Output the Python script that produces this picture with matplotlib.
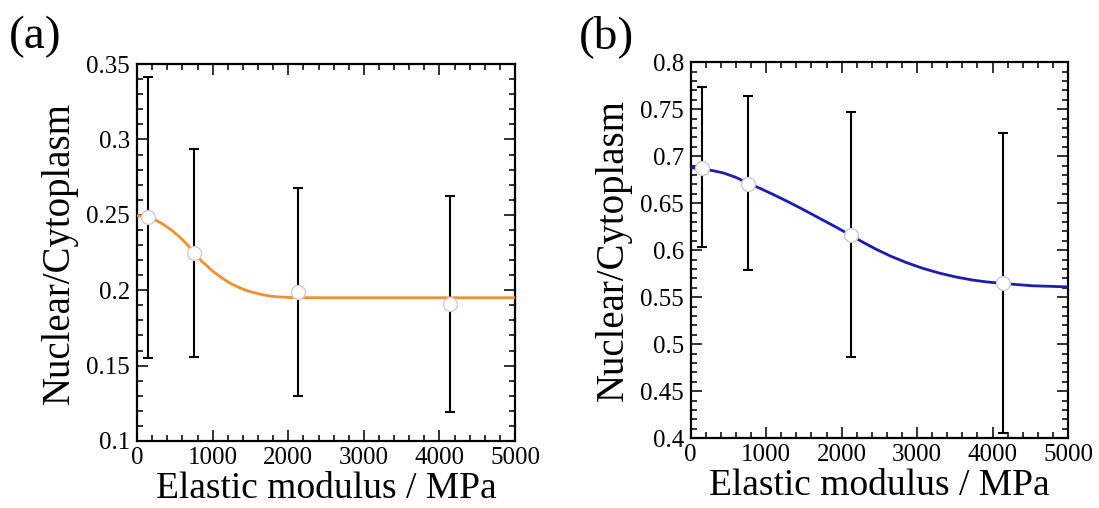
#!/usr/bin/env python
"""Nuclear/Cytoplasm ratio vs elastic modulus, panels (a) and (b)"""

import numpy as np
import matplotlib
matplotlib.use('Agg')
import matplotlib.pyplot as plt
from matplotlib.ticker import MultipleLocator

plt.rcParams['font.family'] = ['Liberation Serif', 'DejaVu Serif']

# measured points (same substrates in both panels)
modulus_a = [145, 757, 2124, 4142]
ratio_a = [0.2487, 0.2244, 0.199, 0.191]
err_hi_a = [0.3416, 0.2934, 0.2678, 0.2626]
err_lo_a = [0.155, 0.156, 0.1297, 0.1192]

modulus_b = [148, 759, 2125, 4134]
ratio_b = [0.688, 0.671, 0.6166, 0.565]
err_hi_b = [0.774, 0.764, 0.747, 0.725]
err_lo_b = [0.603, 0.579, 0.486, 0.406]

# fitted curves
fit_x_a = [0, 150, 250, 350, 450, 570, 650, 750, 850, 1010, 1120, 1230, 1340,
           1450, 1560, 1670, 1780, 1890, 2000, 2100, 2500, 3500, 5000]
fit_y_a = [0.2495, 0.2486, 0.2464, 0.2436, 0.2401, 0.2350, 0.2310, 0.2252,
           0.2195, 0.2123, 0.2082, 0.2047, 0.2020, 0.1998, 0.1982, 0.1969,
           0.1960, 0.1955, 0.1952, 0.1951, 0.195, 0.195, 0.195]

fit_x_b = [0, 150, 300, 434, 600, 751, 920, 1094, 1270, 1446, 1600, 1754, 1940,
           2119, 2290, 2458, 2650, 2854, 3070, 3294, 3510, 3733, 3920, 4116,
           4525, 5000]
fit_y_b = [0.6878, 0.6865, 0.6846, 0.6822, 0.6775, 0.6716, 0.6658, 0.6593,
           0.6524, 0.6452, 0.6386, 0.632, 0.6240, 0.6159, 0.6082, 0.601,
           0.5937, 0.587, 0.5809, 0.5757, 0.5716, 0.5683, 0.5663, 0.5648,
           0.5622, 0.5610]

panels = [
    dict(tag='(a)', x=modulus_a, y=ratio_a, hi=err_hi_a, lo=err_lo_a,
         fx=fit_x_a, fy=fit_y_a, color='#ee9130', edge='#dcc4d4',
         ylim=(0.1, 0.35), rect=[0.1247, 0.1319, 0.344, 0.742], tagx=0.008),
    dict(tag='(b)', x=modulus_b, y=ratio_b, hi=err_hi_b, lo=err_lo_b,
         fx=fit_x_b, fy=fit_y_b, color='#1c1cb0', edge='#c8c8dc',
         ylim=(0.4, 0.8), rect=[0.6285, 0.1374, 0.3433, 0.740], tagx=0.527),
]


def fmt_tick(v, pos):
    return ('%.2f' % v).rstrip('0').rstrip('.')


fig = plt.figure(figsize=(10.99, 5.08), dpi=100)

for p in panels:
    ax = fig.add_axes(p['rect'])
    y = np.array(p['y'])
    yerr = [y - np.array(p['lo']), np.array(p['hi']) - y]
    ax.errorbar(p['x'], y, yerr=yerr, fmt='none', ecolor='black',
                elinewidth=1.5, capsize=3.5, capthick=1.5, zorder=2)
    ax.plot(p['fx'], p['fy'], color=p['color'], lw=2.0, zorder=3,
            solid_joinstyle='round')
    ax.plot(p['x'], y, 'o', ms=10, mfc='white', mec=p['edge'], mew=1.0, zorder=4)

    ax.set_xlim(0, 5000)
    ax.set_ylim(*p['ylim'])
    ax.xaxis.set_major_locator(MultipleLocator(1000))
    ax.xaxis.set_minor_locator(MultipleLocator(200))
    ax.yaxis.set_major_locator(MultipleLocator(0.05))
    ax.yaxis.set_minor_locator(MultipleLocator(0.01))
    ax.yaxis.set_major_formatter(plt.FuncFormatter(fmt_tick))
    ax.tick_params(which='both', direction='in', top=True, right=True,
                   labelsize=18, width=1.3, color='#222222')
    ax.tick_params(which='major', length=8)
    ax.tick_params(which='minor', length=4.5)
    ax.tick_params(axis='x', pad=4)
    ax.tick_params(axis='y', pad=5)
    for s in ax.spines.values():
        s.set_linewidth(1.6)

    ax.set_xlabel('Elastic modulus / MPa', fontsize=27, labelpad=2)
    ax.set_ylabel('Nuclear/Cytoplasm', fontsize=28, labelpad=6)
    fig.text(p['tagx'], 0.905, p['tag'], fontsize=34, ha='left', va='baseline')

plt.savefig('out.png', dpi=100)
